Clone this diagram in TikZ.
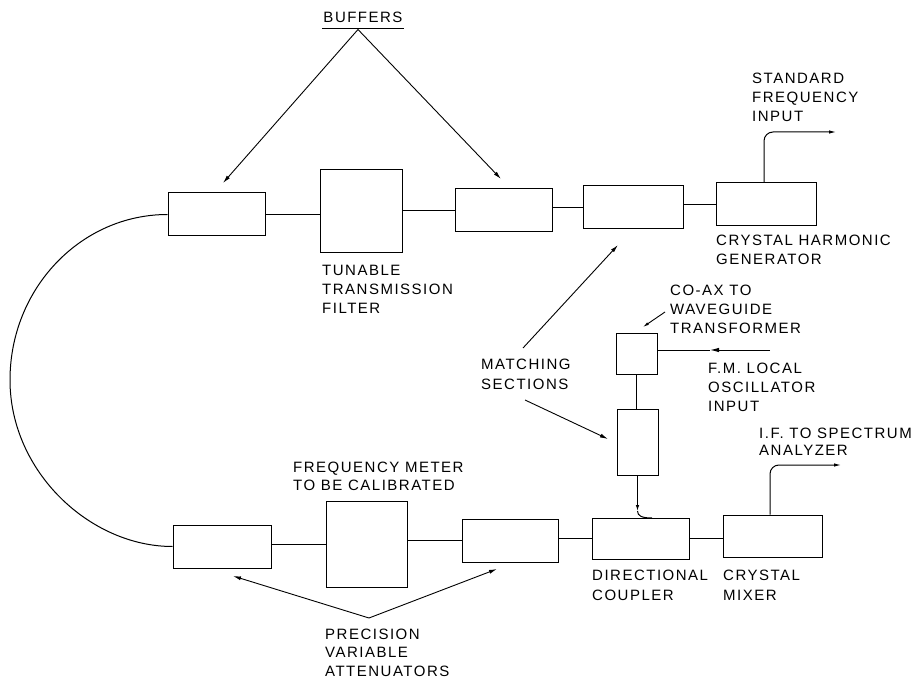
\documentclass[tikz,border=0pt]{standalone}
\usepackage{fontspec}
\newfontfamily\lab[LetterSpace=10]{Liberation Sans}
\usetikzlibrary{arrows.meta}
\begin{document}
\begin{tikzpicture}[x=1pt,y=-1pt,
 blk/.style={draw, line width=1pt, inner sep=0pt},
 wire/.style={line width=1pt},
 lbl/.style={font=\lab\fontsize{15}{19}\selectfont, align=left, inner sep=0pt, anchor=north west},
 pointer/.style={line width=0.9pt, -{Latex[length=8pt,width=4pt]}}]
\useasboundingbox[fill=white] (0,0) rectangle (922,682);

% blocks
\node[blk, minimum width=97pt, minimum height=43pt] (buf1) at (216.5,214.5) {};
\node[blk, minimum width=82pt, minimum height=83pt] (filt) at (361,211.5) {};
\node[blk, minimum width=97pt, minimum height=43pt] (buf2) at (503.5,210.5) {};
\node[blk, minimum width=100pt, minimum height=43pt] (mtop) at (633,207.5) {};
\node[blk, minimum width=100pt, minimum height=43pt] (chg) at (766,204.5) {};
\node[blk, minimum width=41pt, minimum height=41pt] (coax) at (636.5,353.5) {};
\node[blk, minimum width=41pt, minimum height=66pt] (mvert) at (637.5,442) {};
\node[blk, minimum width=98pt, minimum height=43pt] (att1) at (222,546.5) {};
\node[blk, minimum width=81pt, minimum height=86pt] (meter) at (366.5,544) {};
\node[blk, minimum width=96pt, minimum height=43pt] (att2) at (510,540.5) {};
\node[blk, minimum width=97pt, minimum height=41pt] (coupler) at (640.5,538.5) {};
\node[blk, minimum width=99pt, minimum height=42pt] (mixer) at (772.5,536) {};

% labels
\node[lbl, anchor=north] (tBuf) at (363,11.6) {BUFFERS};
\node[lbl] (tSF) at (752,72.6) {STANDARD\\FREQUENCY\\INPUT};
\node[lbl] (tCHG) at (716,234.6) {CRYSTAL HARMONIC\\GENERATOR};
\node[lbl] (tTF) at (322,264.6) {TUNABLE\\TRANSMISSION\\FILTER};
\node[lbl] (tCX) at (670,284.6) {CO-AX TO\\WAVEGUIDE\\TRANSFORMER};
\node[lbl, font=\lab\fontsize{15}{20}\selectfont] (tMS) at (481,358.6) {MATCHING\\SECTIONS};
\node[lbl] (tFM) at (708,362.6) {F.M. LOCAL\\OSCILLATOR\\INPUT};
\node[lbl, font=\lab\fontsize{15}{17.5}\selectfont] (tIF) at (759,427.6) {I.F. TO SPECTRUM\\ANALYZER};
\node[lbl, font=\lab\fontsize{15}{18}\selectfont] (tFMt) at (293,461.6) {FREQUENCY METER\\TO BE CALIBRATED};
\node[lbl, font=\lab\fontsize{15}{20}\selectfont] (tDC) at (592,569.6) {DIRECTIONAL\\COUPLER};
\node[lbl, font=\lab\fontsize{15}{20}\selectfont] (tCM) at (723,569.6) {CRYSTAL\\MIXER};
\node[lbl, font=\lab\fontsize{15}{18.5}\selectfont] (tPVA) at (325,628.6) {PRECISION\\VARIABLE\\ATTENUATORS};

% coordinates
\coordinate (ulL) at (322,29);
\coordinate (ulR) at (404,29);
\coordinate (bufap) at (358,29.5);
\coordinate (bufA) at (223,183);
\coordinate (bufB) at (501,179);
\coordinate (msA0) at (523,348);
\coordinate (msA) at (618,245);
\coordinate (msB0) at (525,400);
\coordinate (msB) at (608,439);
\coordinate (cx0) at (665,312);
\coordinate (cx) at (643,327);
\coordinate (attap) at (369,618);
\coordinate (attA) at (233,576);
\coordinate (attB) at (497,569);
\coordinate (arcL) at (10,380);
\coordinate (fmin) at (770,350);
\coordinate (fmmid) at (710,350);
\coordinate (sfout) at (836,132);
\coordinate (ifout) at (841,465);
\coordinate (dcbend) at (637.5,511);
\coordinate (dcin) at (652,518);

% main line connectors
\draw[wire] (buf1.east) -- (buf1.east -| filt.west);
\draw[wire] (buf2.west -| filt.east) -- (buf2.west);
\draw[wire] (mtop.west -| buf2.east) -- (mtop.west);
\draw[wire] (chg.west -| mtop.east) -- (chg.west);
\draw[wire] (att1.east |- meter.west) -- (meter.west);
\draw[wire] (meter.east |- att2.west) -- (att2.west);
\draw[wire] (att2.east |- coupler.west) -- (coupler.west);
\draw[wire] (coupler.east) -- (coupler.east -| mixer.west);
\draw[wire] (coax.south) -- (coax.south |- mvert.north);
\draw[wire] (buf1.west) .. controls (80.8,214.5) and (10,288.4) .. (arcL)
  .. controls (10,471.6) and (90,546.5) .. (att1.west);

% branch to coupler
\draw[wire, -{Latex[length=6pt,width=3.5pt]}] (mvert.south) -- (dcbend);
\draw[wire] (dcbend) .. controls (637.5,516) and (642,518) .. (dcin);

% inputs / outputs
\draw[wire, -{Latex[length=9pt,width=4.5pt]}] (fmin) -- (fmmid);
\draw[wire] (fmmid) -- (fmin -| coax.east);
\draw[wire, -{Latex[length=7pt,width=3.5pt]}, rounded corners=9pt] ([xshift=-2pt]chg.north) |- (sfout);
\draw[wire, -{Latex[length=7pt,width=3.5pt]}, rounded corners=9pt] ([xshift=-2.5pt]mixer.north) |- (ifout);

% pointers
\draw[wire] (ulL) -- (ulR);
\draw[pointer] (bufap) -- (bufA);
\draw[pointer] (bufap) -- (bufB);
\draw[pointer] (msA0) -- (msA);
\draw[pointer] (msB0) -- (msB);
\draw[pointer, -{Latex[length=6pt,width=3pt]}] (cx0) -- (cx);
\draw[pointer] (attap) -- (attA);
\draw[pointer] (attap) -- (attB);
\end{tikzpicture}
\end{document}
